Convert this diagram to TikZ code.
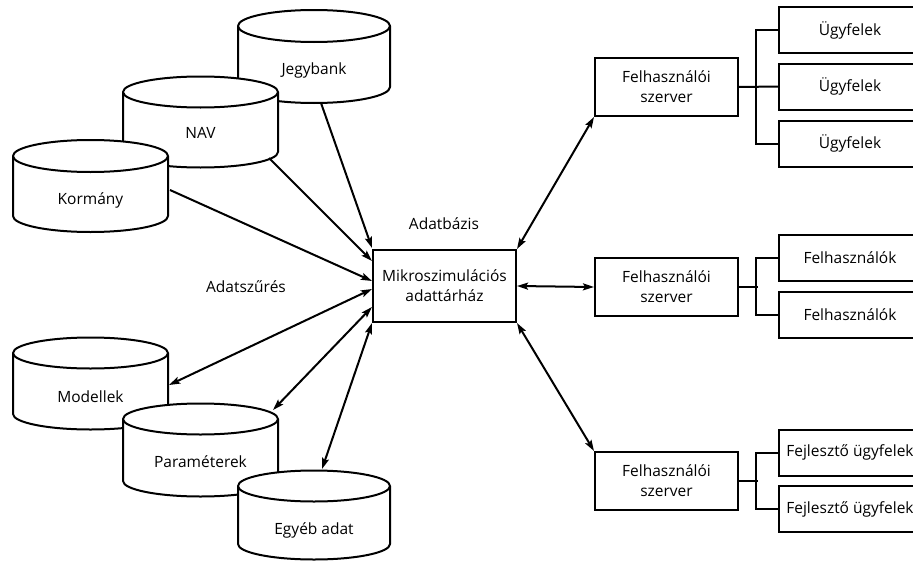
\documentclass[tikz,border=0pt]{standalone}
\usepackage{fontspec}
\setmainfont{Open Sans}
\usetikzlibrary{arrows.meta,calc}

% database drum: left x, right x, top-centre y, bottom-centre y, vertical radius
\newcommand\drumshape[5]{%
  \pgfmathsetmacro\drumrx{(#2-#1)/2}%
  \filldraw[drum] (#1,-#3) -- (#1,-#4)
    arc[start angle=180,end angle=360,x radius=\drumrx pt,y radius=#5pt]
    -- (#2,-#3)
    arc[start angle=0,end angle=180,x radius=\drumrx pt,y radius=#5pt] -- cycle;
  \draw[drum] (#1,-#3)
    arc[start angle=180,end angle=360,x radius=\drumrx pt,y radius=#5pt];
}

\tikzset{
  every node/.style={font=\fontsize{15.5}{20}\selectfont},
  drum/.style={line width=2pt, fill=white, draw=black, line join=round},
  drumlabel/.style={inner sep=0pt},
  hubbox/.style={draw, line width=2pt, fill=white, minimum width=143pt,
    minimum height=72pt, align=center, inner sep=0pt},
  srvbox/.style={draw, line width=2pt, fill=white, minimum width=143pt,
    minimum height=58pt, align=center, inner sep=0pt},
  leafbox/.style={draw, line width=2pt, fill=white, minimum width=142pt,
    minimum height=46pt, inner sep=0pt},
  tip/.style={},
  flow/.style={line width=2pt, -{Stealth[length=11pt,width=7pt,inset=2pt]}},
  dflow/.style={line width=2pt,
    {Stealth[length=11pt,width=7pt,inset=2pt]}-{Stealth[length=11pt,width=7pt,inset=2pt]}},
  bus/.style={line width=2pt},
}

\begin{document}
\begin{tikzpicture}[x=1pt,y=1pt]
\useasboundingbox (0,0) rectangle (913,-562);

% source databases
\drumshape{238}{390}{26}{87}{16}
\node[drumlabel] (jegybank) at (314,-70) {Jegybank};
\drumshape{123}{278}{92}{152}{15.5}
\node[drumlabel] (nav) at (200.5,-133) {NAV};
\drumshape{13}{168}{156}{216}{16}
\node[drumlabel] (kormany) at (90.5,-200) {Kormány};

% model databases
\drumshape{13}{168}{353}{414}{15.5}
\node[drumlabel] (modellek) at (90.5,-397) {Modellek};
\drumshape{123}{278}{419}{481}{15.5}
\node[drumlabel] (parameterek) at (200.5,-462) {Paraméterek};
\drumshape{238}{390}{486}{544}{15.5}
\node[drumlabel] (egyeb) at (314,-530) {Egyéb adat};

% connection points on the drums
\coordinate (jegybank-port) at (321,-103);
\coordinate (nav-port) at (269,-158);
\coordinate (kormany-port) at (170,-190);
\coordinate (modellek-port) at (169,-385);
\coordinate (parameterek-port) at (273,-410);
\coordinate (egyeb-port) at (322,-469);

% central warehouse
\node[hubbox] (hub) at (444.5,-286) {Mikroszimulációs\\adattárház};
\node (adatbazis) at (444,-224) {Adatbázis};
\node (adatszures) at (246,-287) {Adatszűrés};

% user servers
\node[srvbox] (srv1) at (666.5,-87) {Felhasználói\\szerver};
\node[srvbox] (srv2) at (666.5,-287) {Felhasználói\\szerver};
\node[srvbox] (srv3) at (666.5,-481) {Felhasználói\\szerver};

% client boxes
\node[leafbox] (u1) at (850,-30) {Ügyfelek};
\node[leafbox] (u2) at (850,-86.5) {Ügyfelek};
\node[leafbox] (u3) at (850,-143.5) {Ügyfelek};
\node[leafbox] (f1) at (850,-258) {Felhasználók};
\node[leafbox] (f2) at (850,-314.5) {Felhasználók};
\node[leafbox] (d1) at (850,-452.5) {Fejlesztő ügyfelek};
\node[leafbox] (d2) at (850,-509) {Fejlesztő ügyfelek};

% inputs into the warehouse
\draw[flow] (jegybank-port) -- ($(hub.north west)+(0,1)$);
\draw[flow] (nav-port) -- ($(hub.north west)+(0,-12)$);
\draw[flow] (kormany-port) -- ($(hub.north west)+(0,-32)$);
\draw[dflow] (modellek-port) -- ($(hub.north west)+(0,-40)$);
\draw[dflow] (parameterek-port) -- ($(hub.north west)+(0,-58)$);
\draw[dflow] (egyeb-port) -- (hub.south west);

% warehouse to servers
\draw[dflow] (hub.north east) -- (srv1.south west);
\draw[dflow] (hub.east) -- (srv2.west);
\draw[dflow] (hub.south east) -- (srv3.north west);

% servers to their clients
\draw[bus] (srv1.east) -- (u2.west);
\draw[bus] (u1.west) -- ++(-22,0) |- (u3.west);
\draw[bus] (srv2.east) -- ++(19,0);
\draw[bus] (f1.west) -- ++(-22,0) |- (f2.west);
\draw[bus] (srv3.east) -- ++(19,0);
\draw[bus] (d1.west) -- ++(-22,0) |- (d2.west);
\end{tikzpicture}
\end{document}
